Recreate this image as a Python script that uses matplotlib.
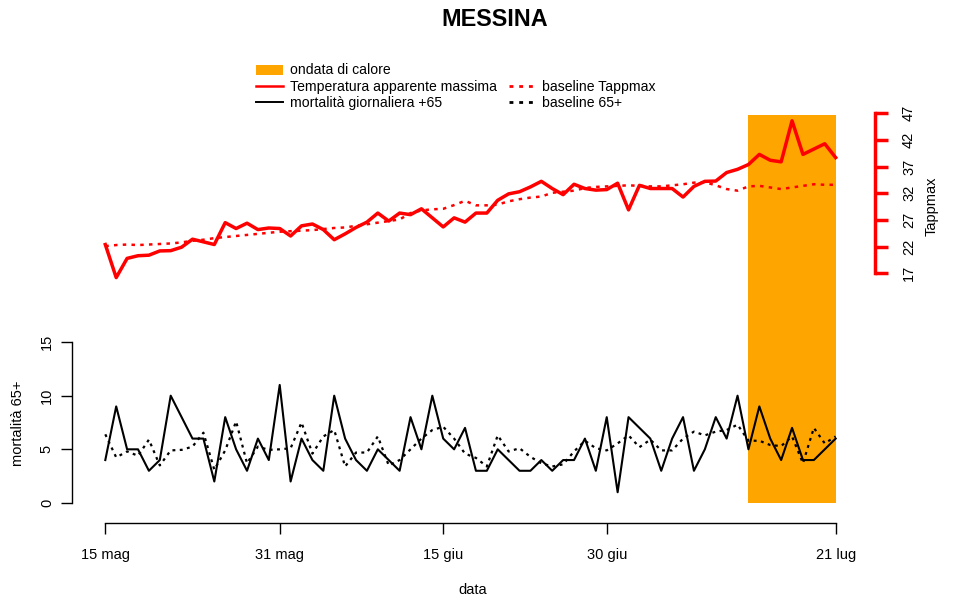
import numpy as np
import matplotlib
matplotlib.use("Agg")
import matplotlib.pyplot as plt
from matplotlib.lines import Line2D
from matplotlib.patches import Patch

plt.rcParams['font.family'] = ['Liberation Sans', 'DejaVu Sans']

# ---- data (days from 15 mag to 21 lug) ----
tick_days = [0, 16, 31, 46, 67]
tick_labels = ["15 mag", "31 mag", "15 giu", "30 giu", "21 lug"]

tapp_max = [22.4, 16.2, 19.8, 20.3, 20.4, 21.2, 21.25, 21.9, 23.4, 22.9,
            22.4, 26.5, 25.4, 26.4, 25.2, 25.5, 25.4, 24.0, 25.9, 26.25,
            25.2, 23.3, 24.4, 25.6, 26.6, 28.3, 26.8, 28.3, 28.0, 29.1,
            27.4, 25.7, 27.4, 26.6, 28.3, 28.3, 30.7, 31.9, 32.3, 33.2,
            34.25, 32.9, 31.75, 33.7, 32.9, 32.6, 32.7, 33.9, 28.9, 33.5,
            32.9, 32.9, 32.9, 31.3, 33.3, 34.25, 34.3, 35.9, 36.5, 37.4,
            39.3, 38.2, 37.9, 45.6, 39.3, 40.3, 41.3, 38.7]

base_tapp = [22.1, 22.3, 22.4, 22.3, 22.4, 22.5, 22.6, 22.8, 23.1, 23.3,
             23.6, 23.8, 24.0, 24.2, 24.4, 24.6, 24.8, 24.9, 25.0, 25.1,
             25.3, 25.5, 25.6, 25.9, 26.2, 26.5, 26.8, 27.1, 28.3, 28.8,
             29.0, 29.1, 29.8, 30.6, 29.75, 29.75, 29.9, 30.5, 30.9, 31.2,
             31.4, 32.1, 32.3, 32.5, 33.0, 33.2, 33.3, 33.4, 33.5, 33.4,
             33.3, 33.3, 33.5, 33.7, 34.0, 34.1, 33.5, 32.8, 32.5, 33.3,
             33.4, 33.1, 32.8, 33.1, 33.4, 33.7, 33.6, 33.6]

mort65 = [4, 9, 5, 5, 3, 4, 10, 8, 6, 6,
          2, 8, 5, 3, 6, 4, 11, 2, 6, 4,
          3, 10, 6, 4, 3, 5, 4, 3, 8, 5,
          10, 6, 5, 7, 3, 3, 5, 4, 3, 3,
          4, 3, 4, 4, 6, 3, 8, 1, 8, 7,
          6, 3, 6, 8, 3, 5, 8, 6, 10, 5,
          9, 6, 4, 7, 4, 4, 5, 6]

base_mort = [6.4, 4.25, 4.8, 4.4, 5.9, 3.5, 4.9, 4.95, 5.25, 6.55,
             3.1, 4.9, 7.6, 3.7, 5.25, 4.95, 5.0, 5.1, 7.5, 4.6,
             6.2, 6.8, 3.4, 4.7, 4.7, 6.2, 3.5, 4.0, 5.0, 6.0,
             6.8, 7.1, 6.0, 4.6, 4.2, 3.4, 6.3, 4.8, 5.1, 4.3,
             3.7, 3.4, 3.6, 4.8, 5.8, 5.1, 4.9, 5.55, 6.3, 5.2,
             5.9, 4.9, 4.9, 6.0, 6.65, 6.3, 6.65, 6.8, 7.3, 5.8,
             5.8, 5.4, 5.3, 6.2, 3.7, 7.0, 5.55, 6.2]

heat_start, heat_end = 59, 67
band_top = 36.2

days = np.arange(len(tapp_max))

# ---- figure ----
W, H = 954, 603
fig = plt.figure(figsize=(W / 100, H / 100), dpi=100)
L, R, T, B = 72, 875, 100, 530
ax = fig.add_axes([L / W, (H - B) / H, (R - L) / W, (B - T) / H])
ax.patch.set_alpha(0)

ax.set_xlim(-3.055, 70.61)
ax.set_ylim(-2.52, 37.56)

ax.fill_between([heat_start, heat_end], 0, band_top, color='#FFA500',
                linewidth=0, zorder=1)
ax.plot(days, mort65, color='black', lw=1.5, zorder=3)
ax.plot(days, base_mort, color='black', lw=1.6, ls=(0, (1.3, 2.0)), zorder=3)

for s in ['top', 'right']:
    ax.spines[s].set_visible(False)
ax.spines['left'].set_bounds(0, 15)
ax.spines['left'].set_linewidth(1.0)
ax.spines['bottom'].set_position(('data', -1.894))
ax.spines['bottom'].set_bounds(0, 67)
ax.spines['bottom'].set_linewidth(1.0)
ax.set_yticks([0, 5, 10, 15])
ax.set_yticklabels(['0', '5', '10', '15'], rotation=90, va='center')
ax.set_xticks(tick_days)
ax.set_xticklabels(tick_labels)
ax.tick_params(axis='x', direction='out', length=8, width=1.0,
               labelsize=10.5, pad=9.5)
ax.tick_params(axis='y', direction='out', length=8, width=1.0,
               labelsize=10.5, pad=5)

ax2 = ax.twinx()
ax2.set_ylim(-31.13, 49.5)
ax2.plot(days, tapp_max, color='#FF0000', lw=2.5, zorder=3)
ax2.plot(days, base_tapp, color='#FF0000', lw=1.8, ls=(0, (1.4, 2.1)), zorder=3)
for s in ['top', 'left', 'bottom']:
    ax2.spines[s].set_visible(False)
ax2.spines['right'].set_bounds(17, 47)
ax2.spines['right'].set_color('#FF0000')
ax2.spines['right'].set_linewidth(2.5)
ax2.set_yticks([17, 22, 27, 32, 37, 42, 47])
ax2.set_yticklabels(['17', '22', '27', '32', '37', '42', '47'], rotation=90, va='center')
ax2.tick_params(axis='y', direction='out', length=9, width=2.5, color='#FF0000',
                labelsize=10.5, pad=10.5)

# ---- texts ----
fig.text(495 / W, 1 - 20 / H, 'MESSINA', ha='center', va='center',
         fontsize=16.8, fontweight='bold')
fig.text(473 / W, 1 - 590 / H, 'data', ha='center', va='center', fontsize=10.5)
fig.text(18 / W, 1 - 423 / H, 'mortalità 65+', ha='center', va='center',
         rotation=90, fontsize=10.5)
fig.text(932 / W, 1 - 206 / H, 'Tappmax', ha='center', va='center',
         rotation=90, fontsize=10.5)

# ---- legend ----
handles = [Patch(facecolor='#FFA500', edgecolor='none'),
           Line2D([], [], color='#FF0000', lw=1.8),
           Line2D([], [], color='black', lw=1.4),
           Line2D([], [], color='none'),
           Line2D([], [], color='#FF0000', lw=2, ls=(0, (1.4, 2.1))),
           Line2D([], [], color='black', lw=2, ls=(0, (1.4, 2.1)))]
labels = ['ondata di calore', 'Temperatura apparente massima',
          'mortalità giornaliera +65', '', 'baseline Tappmax', 'baseline 65+']
fig.legend(handles, labels, ncol=2, frameon=False, fontsize=10.1,
           loc='upper left', bbox_to_anchor=(256 / W, 1 - 63.5 / H),
           handlelength=1.9, handletextpad=0.5, columnspacing=0.85,
           labelspacing=0.15, borderpad=0, borderaxespad=0)

fig.savefig('out.png', dpi=100)
